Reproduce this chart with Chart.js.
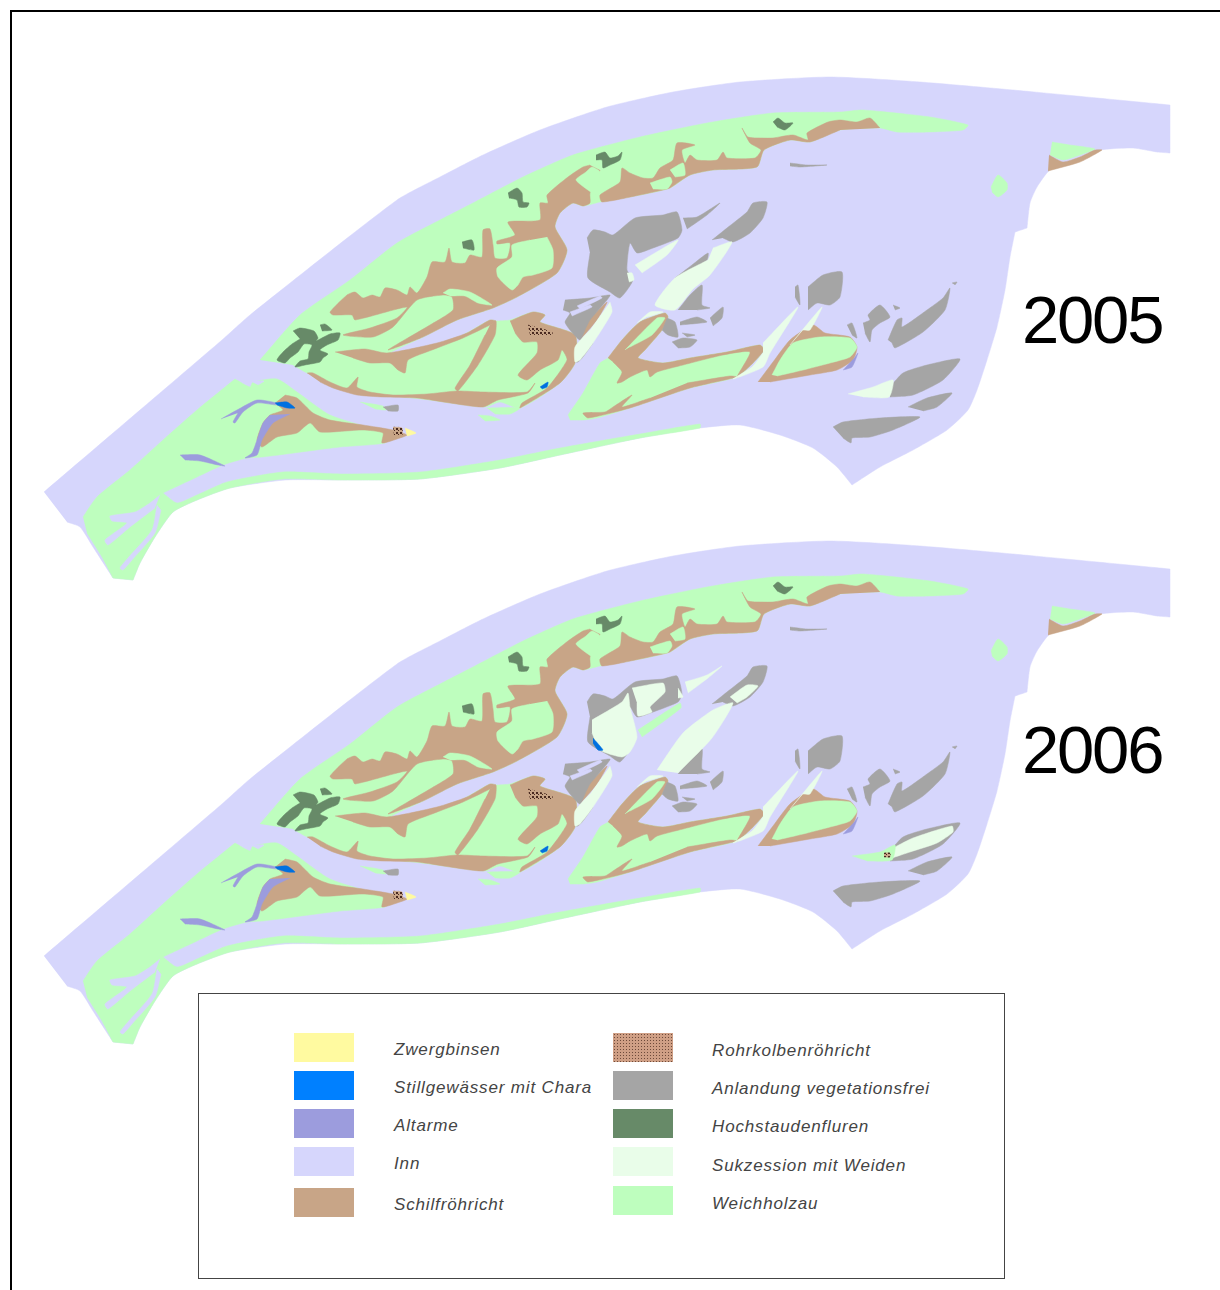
<!DOCTYPE html>
<html lang="de">
<head>
<meta charset="UTF-8">
<title>Inn 2005 / 2006</title>
<script src="https://cdn.jsdelivr.net/npm/chart.js"></script>
<style>
  html, body { margin: 0; background: #fff; }
  #page { position: relative; width: 1220px; height: 1290px; overflow: hidden; font-family: "Liberation Sans", Arial, sans-serif; }
  #frameTop { position: absolute; left: 10px; top: 10px; width: 1210px; height: 2px; background: #000; }
  #frameLeft { position: absolute; left: 10px; top: 10px; width: 2px; height: 1280px; background: #000; }
  canvas { position: absolute; left: 0; }
  #map2005 { top: 60px; }
  #map2006 { top: 524px; }
  .year { position: absolute; left: 1022px; font-size: 67px; line-height: 67px; letter-spacing: -2.2px; color: #000; }
  #legendBox { position: absolute; left: 198px; top: 993px; width: 805px; height: 284px; border: 1px solid #444; background: #fff; }
  .swatch { position: absolute; width: 60px; height: 29px; }
  .label { position: absolute; font-style: italic; font-size: 17px; line-height: 20px; letter-spacing: 0.85px; color: #444; white-space: nowrap; }
  .dotted { background-image: radial-gradient(#6d4a3a 35%, transparent 40%); background-size: 3px 3px; }
</style>
</head>
<body>
<div id="page">
  <div id="frameTop"></div>
  <div id="frameLeft"></div>
  <canvas id="map2005" width="1220" height="540"></canvas>
  <canvas id="map2006" width="1220" height="540"></canvas>
  <div class="year" style="top:286px">2005</div>
  <div class="year" style="top:716px">2006</div>
  <div id="legendBox"></div>
</div>

<script>
// legend
const legendNames = ['Zwergbinsen', 'Stillgewässer mit Chara', 'Altarme', 'Inn', 'Schilfröhricht',
  'Rohrkolbenröhricht', 'Anlandung vegetationsfrei', 'Hochstaudenfluren', 'Sukzession mit Weiden', 'Weichholzau'];
const legendColors = ['#fffaa0', '#0080ff', '#9c9cdd', '#d6d6fc', '#c8a587',
  '#cf9f85', '#a5a5a5', '#678a68', '#e9fde9', '#befebe'];

// colours of the classes
const INN = '#d6d6fc', WEICH = '#befebe', SUK = '#e9fde9', SCHILF = '#c8a587', GRAU = '#a5a5a5';
const HOCH = '#678a68', ALT = '#9c9cdd', STILL = '#0070e0', ZWERG = '#fffaa0';

// outlines, in picture pixels (a repeated point keeps a corner sharp)
const innOutline = [[44,492],[44,492],[222,340],[250,315],[397,200],[440,177],[483,155],[540,130],[607,107],[673,92],[740,82],[830,77],[920,82],[1013,90],[1170,105],[1170,105],[1170,153],[1170,153],[1157,152],[1133,148],[1100,150],[1080,158],[1050,170],[1037,187],[1030,203],[1027,228],[1027,228],[1015,232],[1015,232],[1010,257],[1005,290],[997,327],[987,360],[977,390],[968,410],[947,430],[913,450],[880,467],[852,485],[852,485],[837,467],[813,448],[780,435],[740,425],[700,428],[640,438],[560,455],[500,468],[420,479],[340,480],[285,480],[230,488],[197,500],[173,512],[155,537],[140,563],[133,580],[133,580],[113,578],[113,578],[93,547],[80,527],[67,522]];
const weichLowerLeft = [[83,517],[97,497],[130,470],[163,440],[197,410],[235,379],[235,379],[250,387],[253,382],[277,379],[297,392],[330,415],[390,435],[385,443],[340,447],[263,457],[247,458],[223,465],[197,477],[163,493],[163,493],[177,503],[197,495],[227,482],[283,472],[340,474],[420,472],[500,460],[560,448],[640,434],[700,424],[700,428],[640,438],[560,455],[500,468],[420,479],[340,480],[283,479],[230,488],[197,500],[173,512],[155,537],[140,563],[133,580],[133,580],[113,578],[113,578],[102,557],[87,533]];
const weichMain = [[260,360],[260,360],[300,315],[350,280],[397,243],[440,220],[473,203],[523,177],[573,155],[640,137],[707,123],[773,113],[840,112],[863,110],[930,117],[968,125],[963,130],[930,132],[897,132],[880,128],[840,130],[810,142],[790,140],[764,150],[757,167],[713,170],[690,175],[670,188],[640,195],[600,202],[583,206],[573,203],[560,213],[555,227],[567,250],[557,273],[517,297],[493,308],[457,320],[423,337],[390,353],[410,352],[450,342],[490,320],[496,321],[510,320],[533,312],[545,315],[540,322],[575,335],[575,363],[560,383],[520,408],[500,402],[485,407],[430,400],[350,390],[307,373],[293,365]];
const weichIslet1 = [[487,408],[520,408],[510,414],[495,414]];
const weichIslet2 = [[478,415],[490,416],[500,420],[485,421]];
const weichSliver = [[360,402],[383,406],[386,410],[375,409]];
const weichCentral = [[568,415],[583,393],[600,363],[608,358],[622,340],[640,322],[665,313],[668,317],[662,330],[645,350],[638,358],[663,363],[690,358],[727,352],[760,345],[764,350],[753,363],[737,377],[690,388],[630,408],[597,418],[583,420],[570,420]];
const weichEast = [[772,375],[780,360],[793,343],[820,337],[850,338],[857,347],[850,357],[830,363],[803,370],[777,376]];
const weichDot = [[991,187],[998,175],[1007,183],[1007,190],[998,197],[992,192]];
const weichCorner = [[1052,142],[1070,145],[1095,149],[1080,155],[1063,160],[1050,155]];
const weichPocket1 = [[547,237],[553,250],[552,268],[533,275],[523,277],[518,285],[512,290],[498,277],[497,268],[512,257],[512,245],[530,240]];
const weichPocket2 = [[650,183],[670,177],[672,182],[667,189],[653,189]];
const weichPocket3 = [[670,170],[683,163],[685,175],[675,177]];
const weichPocket4 = [[594,203],[600,172],[592,167],[586,172],[576,180],[592,193]];
const weichWedge = [[443,293],[450,289],[470,292],[492,305],[478,303],[465,296],[450,296]];
const weichLobe = [[625,350],[657,318],[665,318],[652,335],[630,347]];

const schilfEast = [[880,128],[870,118],[857,122],[840,120],[828,122],[807,133],[808,140],[793,135],[773,138],[762,138],[748,137],[742,128],[750,143],[761,150],[755,158],[727,158],[723,152],[717,160],[697,160],[690,155],[685,163],[682,150],[695,145],[677,143],[673,160],[660,168],[653,178],[643,178],[630,173],[622,168],[620,182],[600,195],[602,202],[640,195],[663,190],[670,188],[690,175],[713,170],[757,167],[764,150],[790,140],[810,142],[840,130]];
const schilfWest = [[600,170],[597,180],[590,193],[590,203],[583,206],[573,203],[560,213],[555,227],[567,250],[557,273],[517,297],[493,308],[457,320],[423,337],[388,350],[430,325],[453,310],[452,297],[443,295],[417,300],[393,327],[373,337],[343,335],[370,328],[397,318],[407,307],[355,320],[352,315],[333,315],[330,312],[347,295],[355,292],[363,298],[372,295],[380,297],[385,288],[397,290],[407,295],[410,287],[417,293],[427,277],[432,262],[445,262],[449,248],[452,262],[465,263],[470,255],[482,257],[483,230],[490,229],[493,245],[495,258],[507,258],[510,243],[497,244],[497,241],[515,235],[508,222],[540,220],[540,203],[548,203],[547,195],[568,177],[583,167],[590,165]];
const schilfBranch = [[335,352],[365,349],[387,353],[437,343],[467,333],[490,320],[496,321],[490,325],[463,338],[432,350],[408,360],[405,373],[398,370],[390,363],[370,363],[353,358]];
const schilfDiagonal = [[490,325],[496,321],[495,335],[478,365],[458,391],[455,388],[470,365],[485,335]];
const schilfLower = [[307,373],[313,373],[330,382],[347,388],[358,377],[357,387],[370,392],[393,395],[427,394],[457,391],[483,392],[527,392],[535,383],[528,393],[498,400],[483,407],[450,403],[417,398],[383,397],[357,395],[333,388],[320,382]];
const schilfLobe = [[510,321],[533,312],[545,315],[540,322],[575,335],[575,363],[560,383],[520,408],[522,403],[547,388],[567,360],[562,350],[558,360],[540,370],[527,380],[518,375],[537,353],[537,342],[523,342],[515,333]];
const schilfLeft = [[285,395],[297,398],[313,413],[330,420],[363,425],[393,430],[407,435],[400,438],[382,443],[383,433],[363,430],[320,432],[310,423],[297,433],[277,437],[262,447],[257,440],[263,423],[270,415],[283,410],[275,403]];
const schilfCentralTop = [[608,358],[622,340],[640,322],[665,313],[668,317],[662,330],[645,350],[638,358],[663,363],[690,358],[727,352],[760,345],[764,350],[753,363],[737,377],[750,352],[723,355],[683,365],[657,372],[650,377],[647,370],[630,377],[622,382],[617,383],[622,372],[613,362]];
const schilfCentralLow = [[687,383],[730,376],[737,377],[690,388],[630,408],[588,418],[583,413],[605,412],[613,407],[632,395],[622,407],[650,398]];
const schilfEastIsle = [[758,382],[773,362],[790,340],[813,325],[825,333],[850,337],[857,347],[853,360],[837,370],[810,375],[770,382]];
const schilfRight = [[577,332],[607,302],[597,320],[580,340]];
const schilfCorner = [[1049,155],[1063,162],[1080,157],[1095,150],[1102,150],[1080,162],[1048,171]];

const rohrPatch = [[528,325],[552,332],[552,335],[530,335]];
const rohrTip = [[393,427],[402,428],[402,435],[394,435]];
const rohrSpot2006 = [[884,389],[890,389],[890,393],[884,393]];

const hochCross = [[293,331],[300,328],[314,331],[318,338],[316,341],[330,334],[340,333],[338,340],[327,345],[320,350],[328,354],[323,358],[320,362],[305,365],[295,367],[300,361],[308,359],[309,352],[312,345],[304,344],[298,352],[290,358],[285,363],[277,360],[283,352],[292,344],[300,339]];
const hochSmall = [[320,325],[325,324],[332,330],[322,331]];
const hochA = [[462,242],[472,240],[474,250],[463,248]];
const hochB = [[508,193],[517,188],[522,193],[523,202],[529,203],[527,207],[519,207],[517,200],[509,198]];
const hochC = [[596,155],[605,152],[610,158],[618,156],[622,152],[620,160],[610,165],[603,168],[602,160],[596,160]];
const hochD = [[773,122],[778,118],[785,123],[793,123],[785,130],[777,127]];

const altBranch = [[221,419],[237,410],[257,400],[277,403],[277,405],[257,403],[243,412],[235,423],[233,422],[238,413]];
const altShort = [[180,455],[200,455],[225,466],[218,465],[200,461],[185,460]];
const altLong = [[290,414],[273,423],[262,440],[257,455],[245,458],[252,453],[257,440],[263,423],[270,415]];
const altGrey = [[855,357],[858,353],[852,367],[843,370]];
const innSliverA = [[160,495],[150,503],[135,512],[110,516],[112,521],[127,523],[105,540],[108,545],[130,527],[155,508]];
const innSliverB = [[157,505],[152,530],[128,558],[120,568],[123,570],[132,560],[155,533],[161,510]];
const innSliverC = [[570,312],[590,305],[592,307],[572,316]];
const innSliverD = [[577,306],[600,296],[602,298],[580,309]];
const innNotch = [[250,381],[264,381],[258,385]];

const stillLeft = [[275,403],[287,402],[295,408],[287,408],[277,405]];
const stillSmall = [[540,387],[548,382],[547,387],[542,389]];
const stillMiddle2006 = [[593,274],[603,286],[598,286],[593,279]];

const grauBig = [[587,238],[593,230],[605,232],[613,235],[635,218],[663,215],[677,212],[682,230],[678,238],[653,248],[637,253],[630,243],[627,270],[633,280],[620,298],[610,292],[588,278],[590,253]];
const grauNeedle = [[683,218],[697,217],[720,203],[707,215],[687,229]];
const grauRidge = [[712,240],[727,228],[747,212],[753,203],[767,202],[763,218],[750,233],[733,242],[723,238]];
const grauSliver = [[675,278],[692,265],[708,253],[707,260],[683,277]];
const grauMidA = [[678,310],[690,295],[702,285],[702,305],[710,308],[697,310]];
const grauMidB = [[710,318],[723,307],[722,318],[713,326]];
const grauMidC = [[680,322],[697,317],[707,322],[680,325]];
const grauMidD = [[667,318],[675,322],[678,337],[668,335],[662,330]];
const grauMidE = [[682,333],[695,335],[687,337]];
const grauMidF = [[672,342],[683,338],[697,340],[690,347],[678,348]];
const grauMess = [[565,300],[590,298],[610,295],[607,300],[590,320],[585,330],[580,340],[570,330],[565,322],[570,313],[563,310]];
const grauEdge = [[593,343],[583,357],[578,362],[575,362]];
const grauBlockE = [[808,287],[823,275],[842,272],[840,297],[830,305],[817,303],[808,310]];
const grauChip = [[795,287],[798,285],[800,305],[795,297]];
const grauTick = [[847,325],[852,323],[857,338],[852,335]];
const grauCluster = [[863,323],[870,320],[868,315],[880,305],[890,317],[880,323],[872,330],[870,342],[865,333]];
const grauDot = [[893,305],[900,308],[895,310]];
const grauLong = [[888,340],[897,320],[902,318],[902,327],[927,310],[943,298],[950,288],[945,310],[923,332],[895,348],[892,343]];
const grauTiny = [[952,283],[957,282],[955,285]];
const grauLens = [[890,387],[903,373],[927,365],[960,359],[943,380],[913,395],[890,397]];
const grauLens2 = [[908,407],[927,398],[952,393],[937,407],[923,411]];
const grauSouth = [[833,427],[843,422],[880,418],[920,417],[893,430],[870,437],[852,438],[851,443],[843,438]];
const grauThin = [[790,163],[807,165],[827,165],[800,167],[790,166]];
const grauChannel = [[383,407],[398,405],[398,411],[388,411]];

const sukWedge2005 = [[635,265],[678,240],[667,255],[642,273]];
const sukChip2005 = [[627,273],[632,273],[634,280],[629,282]];
const sukBar2005 = [[713,248],[732,242],[710,275],[693,289],[675,310],[655,305],[675,278],[708,260]];
const sukLeft = [[610,302],[612,312],[593,343],[580,360],[575,362],[575,347],[590,330]];
const sukCentralEnd = [[763,343],[798,307],[770,353],[763,367],[733,379],[752,367],[763,353]];
const sukEastBar = [[790,345],[822,307],[810,330],[803,330]];
const sukTop = [[637,323],[650,312],[663,312],[647,317]];
const sukSouth2005 = [[848,394],[873,387],[893,380],[889,397],[863,397]];
const zwergTip = [[405,428],[416,433],[407,436]];

// what changed in 2006
const suk2006Big = [[592,256],[622,238],[628,229],[630,243],[637,273],[630,288],[622,293],[600,286],[592,269]];
const suk2006Upper = [[632,224],[663,219],[665,228],[650,243],[652,248],[638,252],[637,239]];
const suk2006Chip = [[678,224],[683,233],[678,234]];
const suk2006Needle = [[685,218],[707,211],[722,202],[708,214],[688,229]];
const suk2006Ridge = [[730,233],[747,221],[758,222],[747,233],[737,239]];
const suk2006Bar = [[657,306],[683,269],[713,246],[733,239],[712,274],[678,309]];
const suk2006Lens = [[895,383],[913,374],[952,362],[953,368],[937,379],[910,388],[892,394]];
const weich2006Band = [[638,266],[680,239],[681,244],[642,273]];
const weich2006Lens = [[852,392],[880,388],[895,381],[892,396],[867,397]];

// make the dotted fill for Rohrkolbenröhricht
function rohrPattern() {
  const tile = document.createElement('canvas');
  tile.width = 4; tile.height = 4;
  const c = tile.getContext('2d');
  c.fillStyle = SCHILF; c.fillRect(0, 0, 4, 4);
  c.fillStyle = '#4a2a20'; c.fillRect(0, 0, 2, 2); c.fillRect(2, 2, 1, 1);
  return c.createPattern(tile, 'repeat');
}
const ROHR = rohrPattern();

const sharedLayers = [
  [INN, innOutline],
  [WEICH, weichLowerLeft], [WEICH, weichMain], [WEICH, weichIslet1], [WEICH, weichIslet2], [WEICH, weichSliver],
  [WEICH, weichCentral], [WEICH, weichDot], [WEICH, weichCorner],
  [INN, innSliverA], [INN, innSliverB], [INN, innNotch],
  [SCHILF, schilfEast], [SCHILF, schilfWest], [SCHILF, schilfBranch], [SCHILF, schilfDiagonal], [SCHILF, schilfLower],
  [SCHILF, schilfLobe], [SCHILF, schilfLeft], [SCHILF, schilfCentralTop], [SCHILF, schilfCentralLow],
  [SCHILF, schilfEastIsle], [SCHILF, schilfRight], [SCHILF, schilfCorner],
  [WEICH, weichEast], [WEICH, weichPocket1], [WEICH, weichPocket2], [WEICH, weichPocket3], [WEICH, weichPocket4],
  [WEICH, weichWedge], [WEICH, weichLobe],
  [ROHR, rohrPatch], [ROHR, rohrTip],
  [HOCH, hochCross], [HOCH, hochSmall], [HOCH, hochA], [HOCH, hochB], [HOCH, hochC], [HOCH, hochD],
  [ALT, altBranch], [ALT, altShort], [ALT, altLong],
  [STILL, stillLeft], [STILL, stillSmall],
  [GRAU, grauBig], [GRAU, grauRidge], [GRAU, grauMidA], [GRAU, grauMidB], [GRAU, grauMidC], [GRAU, grauMidD],
  [GRAU, grauMidE], [GRAU, grauMidF], [GRAU, grauMess], [GRAU, grauEdge], [GRAU, grauBlockE], [GRAU, grauChip],
  [GRAU, grauTick], [GRAU, grauCluster], [GRAU, grauDot], [GRAU, grauLong], [GRAU, grauTiny], [GRAU, grauLens],
  [GRAU, grauLens2], [GRAU, grauSouth], [GRAU, grauThin], [GRAU, grauChannel], [ALT, altGrey],
  [INN, innSliverC], [INN, innSliverD],
  [SUK, sukLeft], [SUK, sukCentralEnd], [SUK, sukEastBar], [SUK, sukTop], [ZWERG, zwergTip]
];
const layers2005 = [
  [GRAU, grauNeedle], [GRAU, grauSliver],
  [SUK, sukWedge2005], [SUK, sukChip2005], [SUK, sukBar2005], [SUK, sukSouth2005]
];
const layers2006 = [
  [SUK, suk2006Big], [SUK, suk2006Upper], [SUK, suk2006Chip], [SUK, suk2006Needle], [SUK, suk2006Ridge], [SUK, suk2006Bar],
  [WEICH, weich2006Band], [STILL, stillMiddle2006],
  [SUK, suk2006Lens], [WEICH, weich2006Lens], [ROHR, rohrSpot2006]
];

function drawMap(id, layers) {
  const n = layers.length;
  new Chart(document.getElementById(id), {
    type: 'scatter',
    data: {
      datasets: layers.map(function (l, i) {
        return {
          data: l[1].map(function (p) { return { x: p[0], y: p[1] }; }),
          showLine: true,
          fill: 'shape',
          backgroundColor: l[0],
          borderColor: l[0],
          borderWidth: 0.5,
          pointRadius: 0,
          tension: 0.2,
          order: n - i
        };
      })
    },
    options: {
      responsive: false,
      animation: false,
      layout: { padding: 0 },
      plugins: { legend: { display: false }, tooltip: { enabled: false } },
      scales: {
        x: { type: 'linear', display: false, min: 0, max: 1220 },
        y: { type: 'linear', display: false, min: 60, max: 600, reverse: true }
      }
    }
  });
}
drawMap('map2005', sharedLayers.concat(layers2005));
drawMap('map2006', sharedLayers.concat(layers2006));

// legend entries
const legendRowsLeft = [1033, 1071, 1109, 1147, 1188];
const legendRowsRight = [1033, 1071, 1109, 1147, 1186];
const labelRowsLeft = [1040, 1078, 1116, 1154, 1195];
const labelRowsRight = [1041, 1079, 1117, 1156, 1194];
const page = document.getElementById('page');
legendNames.forEach(function (name, i) {
  const left = i < 5;
  const row = left ? i : i - 5;
  const sw = document.createElement('div');
  sw.className = 'swatch' + (name === 'Rohrkolbenröhricht' ? ' dotted' : '');
  sw.style.left = (left ? 294 : 613) + 'px';
  sw.style.top = (left ? legendRowsLeft : legendRowsRight)[row] + 'px';
  sw.style.backgroundColor = legendColors[i];
  page.appendChild(sw);
  const tx = document.createElement('div');
  tx.className = 'label';
  tx.textContent = name;
  tx.style.left = (left ? 394 : 712) + 'px';
  tx.style.top = (left ? labelRowsLeft : labelRowsRight)[row] + 'px';
  page.appendChild(tx);
});
</script>
</body>
</html>
